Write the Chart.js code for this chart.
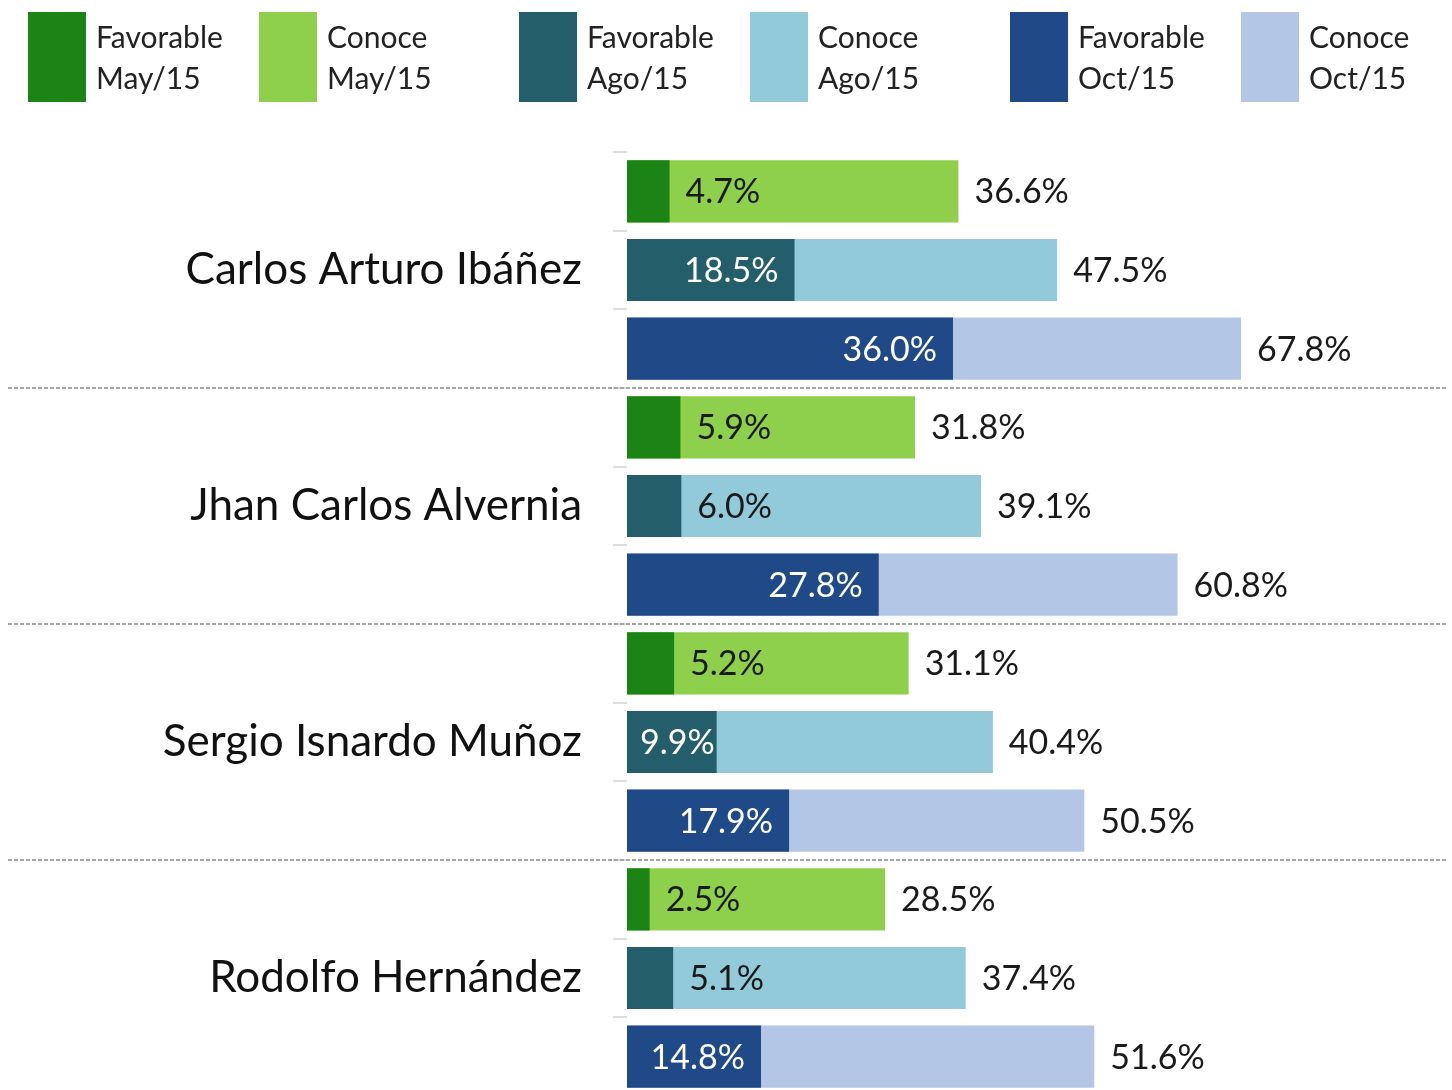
<!DOCTYPE html>
<html>
<head>
<meta charset="utf-8">
<script src="https://cdn.jsdelivr.net/npm/chart.js@4.4.1/dist/chart.umd.min.js"></script>
<style>
  html, body { margin: 0; padding: 0; background: #fff; overflow: hidden; width: 1452px; height: 1090px; }
  #wrap { position: relative; width: 1452px; height: 1100px; }
  #chart { position: absolute; left: 0; top: 0; }
  #legend { position: absolute; left: 0; top: 0; width: 1452px; height: 110px; font-family: Lato, sans-serif; }
  .lg-item { position: absolute; top: 12px; height: 90px; }
  .lg-box { position: absolute; left: 0; top: 0; width: 58px; height: 90px; }
  .lg-text { position: absolute; left: 68px; top: 4px; font-size: 30px; line-height: 41px; color: #222; white-space: nowrap; }
</style>
</head>
<body>
<div id="wrap">
  <canvas id="chart" width="1452" height="1100"></canvas>
  <div id="legend"></div>
</div>
<script>
// ─── Data ────────────────────────────────────────────────────
const candidates = ['Carlos Arturo Ibáñez', 'Jhan Carlos Alvernia', 'Sergio Isnardo Muñoz', 'Rodolfo Hernández'];
const periods = ['May/15', 'Ago/15', 'Oct/15'];

const favMay = [4.7, 5.9, 5.2, 2.5];
const favAgo = [18.5, 6.0, 9.9, 5.1];
const favOct = [36.0, 27.8, 17.9, 14.8];

const conMay = [36.6, 31.8, 31.1, 28.5];
const conAgo = [47.5, 39.1, 40.4, 37.4];
const conOct = [67.8, 60.8, 50.5, 51.6];

// ─── Colors ──────────────────────────────────────────────────
const favColors = ['#1b8414', '#245e6b', '#1f4a87'];
const conColors = ['#8ecf4c', '#92cad9', '#b4c6e6'];

// ─── Build rows (one row per candidate x period) ─────────────
const favByPeriod = [favMay, favAgo, favOct];
const conByPeriod = [conMay, conAgo, conOct];
const rowLabels = [], favData = [], conData = [], favBg = [], conBg = [];
candidates.forEach((c, ci) => {
  periods.forEach((p, pi) => {
    rowLabels.push(c + ' ' + p);
    favData.push(favByPeriod[pi][ci]);
    conData.push(conByPeriod[pi][ci]);
    favBg.push(favColors[pi]);
    conBg.push(conColors[pi]);
  });
});

// ─── Legend (HTML) ───────────────────────────────────────────
const legendEl = document.getElementById('legend');
const legendX = [28, 259, 519, 750, 1010, 1241];
periods.forEach((p, pi) => {
  [['Favorable', favColors[pi]], ['Conoce', conColors[pi]]].forEach(([name, col], k) => {
    const item = document.createElement('div');
    item.className = 'lg-item';
    item.style.left = legendX[pi * 2 + k] + 'px';
    item.innerHTML = `<div class="lg-box" style="background:${col}"></div><div class="lg-text">${name}<br>${p}</div>`;
    legendEl.appendChild(item);
  });
});

// ─── Plugins ─────────────────────────────────────────────────
const fmt = v => v.toFixed(1) + '%';

const valueLabels = {
  id: 'valueLabels',
  afterDatasetsDraw(chart) {
    const ctx = chart.ctx;
    const left = chart.chartArea.left;
    ctx.save();
    ctx.font = '34px Lato';
    ctx.textBaseline = 'middle';
    ctx.textAlign = 'left';
    const favMeta = chart.getDatasetMeta(0);
    const conMeta = chart.getDatasetMeta(1);
    favMeta.data.forEach((bar, i) => {
      const v = favData[i];
      const txt = fmt(v);
      const w = ctx.measureText(txt).width;
      if (v >= 9) {
        ctx.fillStyle = '#ffffff';
        let x = bar.x - 16 - w;
        if (x < left + 13) x = left + 13;
        ctx.fillText(txt, x, bar.y + 1);
      } else {
        ctx.fillStyle = '#1a1a1a';
        ctx.fillText(txt, bar.x + 16, bar.y + 1);
      }
    });
    conMeta.data.forEach((bar, i) => {
      ctx.fillStyle = '#1a1a1a';
      ctx.fillText(fmt(conData[i]), bar.x + 16, bar.y + 1);
    });
    ctx.restore();
  }
};

const groupLines = {
  id: 'groupLines',
  afterDraw(chart) {
    const ctx = chart.ctx;
    const y = chart.scales.y;
    ctx.save();
    ctx.strokeStyle = '#a6a6a6';
    ctx.lineWidth = 2;
    ctx.setLineDash([4, 2]);
    for (let g = 1; g < candidates.length; g++) {
      const i = g * periods.length;
      const yy = Math.round((y.getPixelForValue(i - 1) + y.getPixelForValue(i)) / 2);
      ctx.beginPath();
      ctx.moveTo(8, yy);
      ctx.lineTo(1446, yy);
      ctx.stroke();
    }
    ctx.restore();
  }
};

// ─── Chart ───────────────────────────────────────────────────
new Chart(document.getElementById('chart'), {
  type: 'bar',
  data: {
    labels: rowLabels,
    datasets: [
      { label: 'Favorable', data: favData, backgroundColor: favBg, grouped: false,
        barPercentage: 0.79, categoryPercentage: 1 },
      { label: 'Conoce', data: conData, backgroundColor: conBg, grouped: false,
        barPercentage: 0.79, categoryPercentage: 1 }
    ]
  },
  options: {
    indexAxis: 'y',
    responsive: false,
    animation: false,
    devicePixelRatio: 1,
    layout: { padding: { top: 152, right: 10, bottom: 4, left: 0 } },
    plugins: { legend: { display: false }, tooltip: { enabled: false } },
    scales: {
      x: { display: false, min: 0, max: 90 },
      y: {
        afterFit: scale => {
          scale.width = 627;
          scale.paddingTop = 0;
          scale.paddingBottom = 0;
        },
        border: { display: false },
        grid: { offset: true, drawOnChartArea: false, tickLength: 14, color: '#dddddd', lineWidth: 2 },
        ticks: {
          autoSkip: false,
          padding: 31,
          color: '#111',
          font: { family: 'Lato', size: 44 },
          callback: (val, idx) => (idx % 3 === 1 ? candidates[Math.floor(idx / 3)] : '')
        }
      }
    }
  },
  plugins: [valueLabels, groupLines]
});
</script>
</body>
</html>
